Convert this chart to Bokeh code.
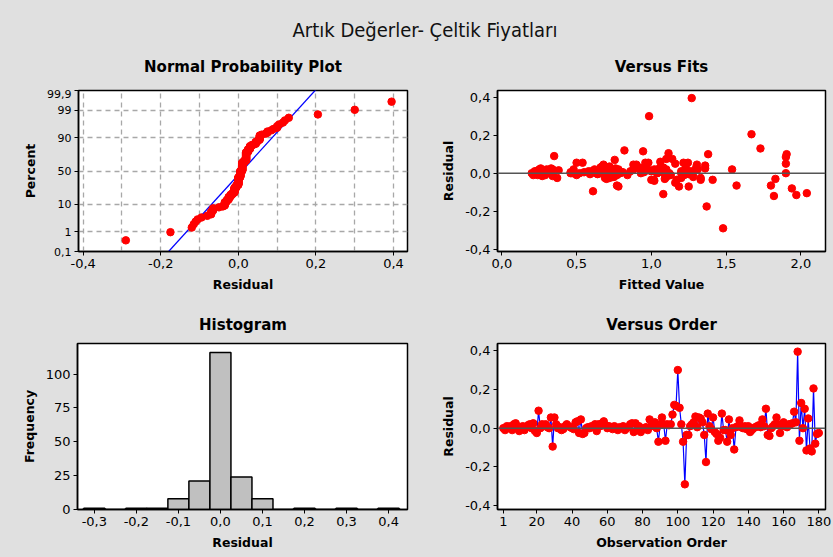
from statistics import NormalDist
import numpy as np
from bokeh.plotting import figure
from bokeh.layouts import column, row
from bokeh.models import FixedTicker, Span, Range1d
from bokeh.embed import file_html
from bokeh.resources import INLINE
from bokeh.core.properties import value

# ---------------- data ----------------
residuals = [
    0.0, -0.01, 0.01, 0.005, 0.01, -0.01, 0.02, 0.025, 0.01, -0.015,
    0.0, 0.01, -0.01, 0.005, 0.015, 0.02, 0.0, 0.025, -0.015, -0.025,
    0.09, 0.0, 0.02, 0.015, 0.02, 0.005, 0.0, 0.055, -0.095, 0.055,
    0.02, 0.0, 0.005, -0.01, -0.005, 0.01, 0.02, 0.01, 0.005, 0.0,
    -0.005, 0.03, 0.035, -0.025, 0.045, -0.03, -0.025, 0.0, 0.005, 0.0,
    0.01, 0.005, 0.02, -0.015, 0.02, 0.01, 0.025, 0.035, 0.015, 0.0,
    0.01, 0.005, -0.005, 0.01, 0.0, -0.01, 0.005, 0.0, 0.01, -0.01,
    0.0, 0.005, 0.02, 0.025, -0.02, 0.025, -0.01, 0.01, -0.02, -0.005,
    0.0, 0.005, -0.01, 0.045, 0.01, 0.02, 0.03, 0.0, -0.07, 0.02,
    0.055, 0.02, -0.065, 0.02, 0.015, 0.02, 0.07, 0.12, 0.115, 0.3,
    0.105, 0.02, -0.07, -0.29, -0.035, -0.035, 0.01, 0.02, 0.03, 0.06,
    0.005, 0.055, 0.05, 0.03, -0.035, -0.175, 0.075, 0.01, -0.005, 0.055,
    -0.02, -0.03, -0.065, -0.05, 0.075, -0.01, -0.01, -0.07, 0.045, -0.035,
    0.0, -0.11, 0.005, 0.01, 0.04, 0.005, 0.0, 0.01, -0.005, 0.01,
    -0.02, -0.01, 0.0, 0.005, 0.01, 0.015, 0.005, 0.045, 0.01, 0.1,
    -0.035, -0.04, 0.0, 0.01, 0.02, 0.055, 0.02, -0.025, 0.01, 0.03,
    0.01, 0.005, 0.02, 0.02, 0.025, 0.085, 0.03, 0.395, -0.065, 0.13,
    0.0, 0.1, -0.115, 0.05, -0.105, -0.12, 0.205, -0.08, -0.03, -0.025,
]
fitted = [
    0.20, 0.21, 0.22, 0.22, 0.23, 0.24, 0.25, 0.26, 0.26, 0.27,
    0.28, 0.27, 0.29, 0.30, 0.31, 0.30, 0.32, 0.33, 0.34, 0.37,
    0.35, 0.46, 0.33, 0.38, 0.34, 0.46, 0.47, 0.50, 0.61, 0.54,
    0.48, 0.52, 0.55, 0.50, 0.59, 0.60, 0.62, 0.58, 0.61, 0.63,
    0.64, 0.66, 0.67, 0.69, 0.68, 0.70, 0.72, 0.65, 0.66, 0.68,
    0.70, 0.71, 0.73, 0.74, 0.69, 0.67, 0.70, 0.72, 0.75, 0.76,
    0.74, 0.72, 0.70, 0.68, 0.66, 0.69, 0.71, 0.73, 0.75, 0.77,
    0.79, 0.80, 0.78, 0.76, 0.74, 0.72, 0.70, 0.73, 0.75, 0.77,
    0.79, 0.81, 0.84, 0.88, 0.86, 0.88, 0.92, 0.93, 0.78, 0.93,
    0.98, 0.95, 0.77, 0.97, 0.99, 0.96, 0.755, 0.82, 0.945, 0.985,
    1.115, 1.02, 1.25, 1.48, 1.015, 1.00, 1.03, 1.04, 1.06, 1.06,
    1.05, 1.215, 1.16, 1.08, 1.33, 1.37, 1.14, 1.07, 1.09, 1.245,
    1.10, 1.09, 1.57, 1.16, 1.10, 1.12, 1.13, 1.185, 1.305, 1.41,
    1.20, 1.08, 1.22, 1.23, 1.36, 1.22, 1.23, 1.28, 1.25, 1.20,
    1.28, 1.22, 1.12, 1.05, 1.00, 0.97, 0.95, 0.90, 1.02, 1.38,
    1.17, 1.02, 1.04, 1.07, 1.10, 0.96, 1.08, 1.20, 1.22, 1.23,
    1.26, 1.28, 1.31, 1.54, 1.36, 1.90, 1.30, 1.27, 1.80, 1.73,
    1.90, 1.905, 1.97, 1.90, 2.04, 1.82, 1.67, 1.94, 1.83, 1.33,
]
observation = list(range(1, len(residuals) + 1))

hist_centers = [-0.30, -0.25, -0.20, -0.15, -0.10, -0.05, 0.0, 0.05, 0.10,
                0.15, 0.20, 0.25, 0.30, 0.35, 0.40]
hist_counts = [1, 0, 1, 1, 8, 21, 116, 24, 8, 0, 1, 0, 1, 0, 1]

prob_ticks = [0.1, 1, 10, 50, 90, 99, 99.9]
prob_labels = ["0,1", "1", "10", "50", "90", "99", "99,9"]

main_title = "Artık Değerler- Çeltik Fiyatları"
panel_titles = ["Normal Probability Plot", "Versus Fits", "Histogram", "Versus Order"]

# ---------------- style / geometry ----------------
BG = "#E0E0E0"
FONT = "DejaVu Sans"
W_LEFT, W_RIGHT = 416, 417
BL_LEFT, BR_LEFT = 78, 9      # left column borders
BL_RIGHT, BR_RIGHT = 81, 8    # right column borders
nd = NormalDist()


def z(pct):
    return round(nd.inv_cdf(pct / 100.0), 6)


def comma(v, fmt="{:.1f}"):
    return fmt.format(v).replace(".", ",")


def strip(height):
    s = figure(width=W_LEFT + W_RIGHT, height=height, toolbar_location=None,
               output_backend="svg", x_range=Range1d(0, W_LEFT + W_RIGHT),
               y_range=Range1d(height, 0),
               min_border_left=0, min_border_right=0, min_border_top=0, min_border_bottom=0)
    s.axis.visible = False
    s.grid.grid_line_color = None
    s.outline_line_color = None
    s.background_fill_color = BG
    s.border_fill_color = BG
    return s


def add_titles(s, middle, left_title, right_title):
    cx_left = BL_LEFT + (W_LEFT - BL_LEFT - BR_LEFT) / 2
    cx_right = W_LEFT + BL_RIGHT + (W_RIGHT - BL_RIGHT - BR_RIGHT) / 2
    s.text(x=[cx_left, cx_right], y=[middle, middle], text=[left_title, right_title],
           text_font=value(FONT), text_font_size="15px", text_font_style="bold",
           text_align="center", text_baseline="middle", text_color="black")


def make_fig(w, h, left, right, top, bottom, xr, yr):
    p = figure(width=w, height=h, toolbar_location=None, output_backend="svg",
               x_range=Range1d(*xr), y_range=Range1d(*yr),
               min_border_left=left, min_border_right=right,
               min_border_top=top, min_border_bottom=bottom)
    p.border_fill_color = BG
    p.background_fill_color = "white"
    p.outline_line_color = "black"
    p.outline_line_width = 1.5
    p.outline_line_alpha = 1.0
    p.grid.grid_line_color = None
    for ax in (p.xaxis[0], p.yaxis[0]):
        ax.major_label_text_font = FONT
        ax.major_label_text_font_size = "13px"
        ax.major_label_text_color = "black"
        ax.axis_label_text_font = FONT
        ax.axis_label_text_font_size = "12.5px"
        ax.axis_label_text_font_style = "bold"
        ax.axis_label_text_color = "black"
        ax.axis_line_color = "black"
        ax.axis_line_width = 1.5
        ax.major_tick_out = 4
        ax.major_tick_in = 0
        ax.major_tick_line_color = "black"
        ax.minor_tick_out = 0
        ax.minor_tick_in = 0
        ax.major_label_standoff = 3
        ax.axis_label_standoff = 6
    return p


# ---------------- title strips ----------------
s1 = strip(89)
s1.text(x=[(W_LEFT + W_RIGHT) / 2 + 8], y=[29], text=[main_title],
        text_font=value("DejaVu Sans Condensed"), text_font_size="20px",
        text_align="center", text_baseline="middle", text_color="#111111")
add_titles(s1, 66, panel_titles[0], panel_titles[1])

s2 = strip(42)
add_titles(s2, 24, panel_titles[2], panel_titles[3])

# ---------------- normal probability plot ----------------
res = np.array(residuals)
n = len(res)
sres = np.sort(res)
pct = [(i - 0.3) / (n + 0.4) * 100 for i in range(1, n + 1)]
zs = [nd.inv_cdf(q / 100.0) for q in pct]
mu = float(res.mean())
sd = float(res.std(ddof=1))

ylo, yhi = z(0.1), z(99.9)
p1 = make_fig(W_LEFT, 211, BL_LEFT, BR_LEFT, 1, 49, (-0.412, 0.436), (ylo, yhi))
xt = [-0.4, -0.2, 0.0, 0.2, 0.4]
p1.xaxis.ticker = FixedTicker(ticks=xt)
p1.xaxis.major_label_overrides = {t: comma(t) for t in xt}
zt = [z(t) for t in prob_ticks]
p1.yaxis.ticker = FixedTicker(ticks=zt)
p1.yaxis.major_label_overrides = {zz: lab for zz, lab in zip(zt, prob_labels)}
p1.yaxis.major_label_text_font_size = "11px"
p1.xaxis.axis_label = "Residual"
p1.yaxis.axis_label = "Percent"
p1.xgrid.ticker = FixedTicker(ticks=[round(-0.4 + 0.1 * k, 1) for k in range(9)])
p1.ygrid.ticker = FixedTicker(ticks=[z(t) for t in prob_ticks[1:-1]])
for g in (p1.xgrid, p1.ygrid):
    g.grid_line_color = "#A8A8A8"
    g.grid_line_dash = "5 4"
    g.grid_line_width = 1.3
zl = [ylo - 0.5, yhi + 0.5]
p1.line(x=[mu + sd * v for v in zl], y=zl, line_color="#0000FF", line_width=1.3)
p1.scatter(x=list(sres), y=zs, size=7.5, fill_color="#FF0000", line_color="#FF0000")

# ---------------- versus fits ----------------
p2 = make_fig(W_RIGHT, 211, BL_RIGHT, BR_RIGHT, 1, 49, (-0.029, 2.165), (-0.412, 0.435))
xt2 = [0.0, 0.5, 1.0, 1.5, 2.0]
p2.xaxis.ticker = FixedTicker(ticks=xt2)
p2.xaxis.major_label_overrides = {t: comma(t) for t in xt2}
yt = [-0.4, -0.2, 0.0, 0.2, 0.4]
p2.yaxis.ticker = FixedTicker(ticks=yt)
p2.yaxis.major_label_overrides = {t: comma(t) for t in yt}
p2.xaxis.axis_label = "Fitted Value"
p2.yaxis.axis_label = "Residual"
p2.add_layout(Span(location=0, dimension="width", line_color="#555555", line_width=1.5))
p2.scatter(x=fitted, y=residuals, size=7.5, fill_color="#FF0000", line_color="#FF0000")

# ---------------- histogram ----------------
p3 = make_fig(W_LEFT, 215, 77, BR_LEFT, 1, 48, (-0.34, 0.445), (0, 122.6))
xt3 = [-0.3, -0.2, -0.1, 0.0, 0.1, 0.2, 0.3, 0.4]
p3.xaxis.ticker = FixedTicker(ticks=xt3)
p3.xaxis.major_label_overrides = {t: comma(t) for t in xt3}
p3.yaxis.ticker = FixedTicker(ticks=[0, 25, 50, 75, 100])
p3.xaxis.axis_label = "Residual"
p3.yaxis.axis_label = "Frequency"
hw = 0.025
p3.quad(left=[c - hw for c in hist_centers], right=[c + hw for c in hist_centers],
        bottom=[0] * len(hist_counts), top=hist_counts,
        fill_color="#C0C0C0", line_color="black", line_width=1.5)

# ---------------- versus order ----------------
p4 = make_fig(W_RIGHT, 215, BL_RIGHT, BR_RIGHT, 1, 46, (-2.3, 183.8), (-0.42, 0.437))
xt4 = [1, 20, 40, 60, 80, 100, 120, 140, 160, 180]
p4.xaxis.ticker = FixedTicker(ticks=xt4)
p4.yaxis.ticker = FixedTicker(ticks=yt)
p4.yaxis.major_label_overrides = {t: comma(t) for t in yt}
p4.xaxis.axis_label = "Observation Order"
p4.yaxis.axis_label = "Residual"
p4.add_layout(Span(location=0, dimension="width", line_color="#555555", line_width=1.5))
p4.line(x=observation, y=residuals, line_color="#0000FF", line_width=1.2)
p4.scatter(x=observation, y=residuals, size=7.5, fill_color="#FF0000", line_color="#FF0000")

layout = column(s1, row(p1, p2), s2, row(p3, p4))
layout.background = BG

open("out.html", "w").write(file_html(layout, INLINE))
